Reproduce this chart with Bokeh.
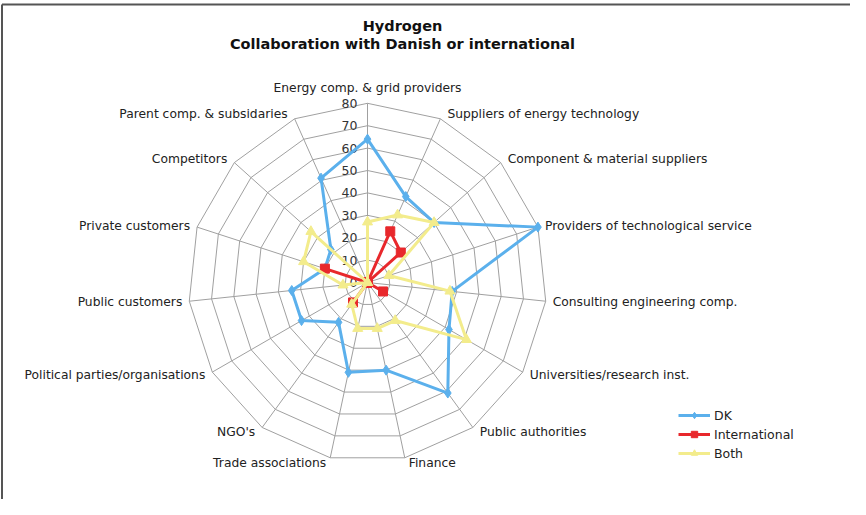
import numpy as np
from bokeh.plotting import figure
from bokeh.models import Range1d, Legend, LegendItem
from bokeh.core.properties import value
from bokeh.embed import file_html
from bokeh.resources import INLINE

# ---------------- data ----------------
categories = [
    "Energy comp. & grid providers",
    "Suppliers of energy technology",
    "Component & material suppliers",
    "Providers of technological service",
    "Consulting engineering comp.",
    "Universities/research inst.",
    "Public authorities",
    "Finance",
    "Trade associations",
    "NGO's",
    "Political parties/organisations",
    "Public customers",
    "Private customers",
    "Competitors",
    "Parent comp. & subsidaries",
]
dk = [64, 42, 40, 80, 38, 42, 61, 40, 41, 22, 34, 34, 20, 22, 51]
international = [0, 25, 20, 0, 0, 8, 0, 0, 0, 11, 0, 0, 20, 0, 0]
both = [27, 33, 40, 10, 37, 51, 21, 21, 21, 12, 0, 11, 30, 34, 0]
ticks = [0, 10, 20, 30, 40, 50, 60, 70, 80]
tick_labels = [str(t) for t in ticks]
series_names = ["DK", "International", "Both"]
title_lines = ["Hydrogen", "Collaboration with Danish or international"]

# ---------------- layout ----------------
W, H = 850, 499
S = 2.24            # pixels per value unit
CX, CY = 367, 282   # radar centre in figure pixels
RMAX = ticks[-1]
FONT = "DejaVu Sans"

p = figure(width=W, height=H, output_backend="svg", toolbar_location=None,
           x_range=Range1d(-CX / S, (W - CX) / S),
           y_range=Range1d(-(H - CY) / S, CY / S),
           x_axis_location=None, y_axis_location=None, min_border=0)
p.grid.visible = False
p.outline_line_color = None
p.background_fill_color = "white"
p.border_fill_color = "white"

n = len(categories)
theta = np.pi / 2 - 2 * np.pi * np.arange(n) / n
cos_t, sin_t = np.cos(theta), np.sin(theta)

# frame border (left and top)
xl = (1.5 - CX) / S
yt = (CY - 4) / S
p.segment(x0=[xl, xl], y0=[yt, yt], x1=[xl, (W - CX) / S], y1=[-(H - CY) / S, yt],
          line_color="#555555", line_width=2)

# rings
ring_xs, ring_ys = [], []
for t in ticks[1:]:
    ring_xs.append(list(np.append(t * cos_t, t * cos_t[0])))
    ring_ys.append(list(np.append(t * sin_t, t * sin_t[0])))
p.multi_line(ring_xs, ring_ys, line_color="#a0a0a0", line_width=1)
# spokes
p.segment(x0=[0] * n, y0=[0] * n, x1=list(RMAX * cos_t), y1=list(RMAX * sin_t),
          line_color="#a0a0a0", line_width=1)

# tick labels
p.text(x=[-10 / S] * len(ticks), y=ticks, text=tick_labels,
       text_font=value(FONT), text_font_size="12.5px", text_color="#333333",
       text_align="right", text_baseline="middle")

# series
colors = ["#5BB0EC", "#E8282C", "#F3EC8C"]
markers = ["diamond", "square", "triangle"]
msizes = [10, 9, 10]
items = []
for name, vals, col, mk, ms in zip(series_names, [dk, international, both], colors, markers, msizes):
    v = np.array(vals, dtype=float)
    xs = v * cos_t
    ys = v * sin_t
    ln = p.line(list(np.append(xs, xs[0])), list(np.append(ys, ys[0])),
                line_color=col, line_width=3)
    sc = p.scatter(list(xs), list(ys), marker=mk, size=ms, fill_color=col, line_color=col)
    items.append(LegendItem(label=name, renderers=[ln, sc]))

# category labels
groups = {"left": ([], [], []), "right": ([], [], []), "center": ([], [], [])}
for i, name in enumerate(categories):
    c, s = cos_t[i], sin_t[i]
    vx, vy = RMAX * c, RMAX * s
    if abs(c) < 0.15:
        g = "center"
        x, y = vx, vy + 15 / S
    else:
        off = 7 if abs(c) > 0.3 else 4
        if c > 0:
            g = "left"
            x = vx + off / S
        else:
            g = "right"
            x = vx - off / S
        y = vy + 5 * s / S
    groups[g][0].append(x)
    groups[g][1].append(y)
    groups[g][2].append(name)
for g, (xs, ys, txt) in groups.items():
    if xs:
        p.text(x=xs, y=ys, text=txt, text_font=value(FONT), text_font_size="12.3px",
               text_color="#222222", text_align=g, text_baseline="middle")

# title
tx = (402 - CX) / S
p.text(x=[tx, tx], y=[(CY - 25) / S, (CY - 43) / S], text=title_lines,
       text_font=value(FONT), text_font_size="14.5px", text_font_style="bold",
       text_color="#111111", text_align="center", text_baseline="middle")

legend = Legend(items=items, location=(678, 38), orientation="vertical",
                glyph_width=32, glyph_height=16, spacing=3, padding=0, margin=0,
                label_standoff=4, label_text_font=FONT, label_text_font_size="12.5px",
                label_text_color="#222222", border_line_color=None,
                background_fill_alpha=0)
p.add_layout(legend)

open("out.html", "w").write(file_html(p, INLINE))
